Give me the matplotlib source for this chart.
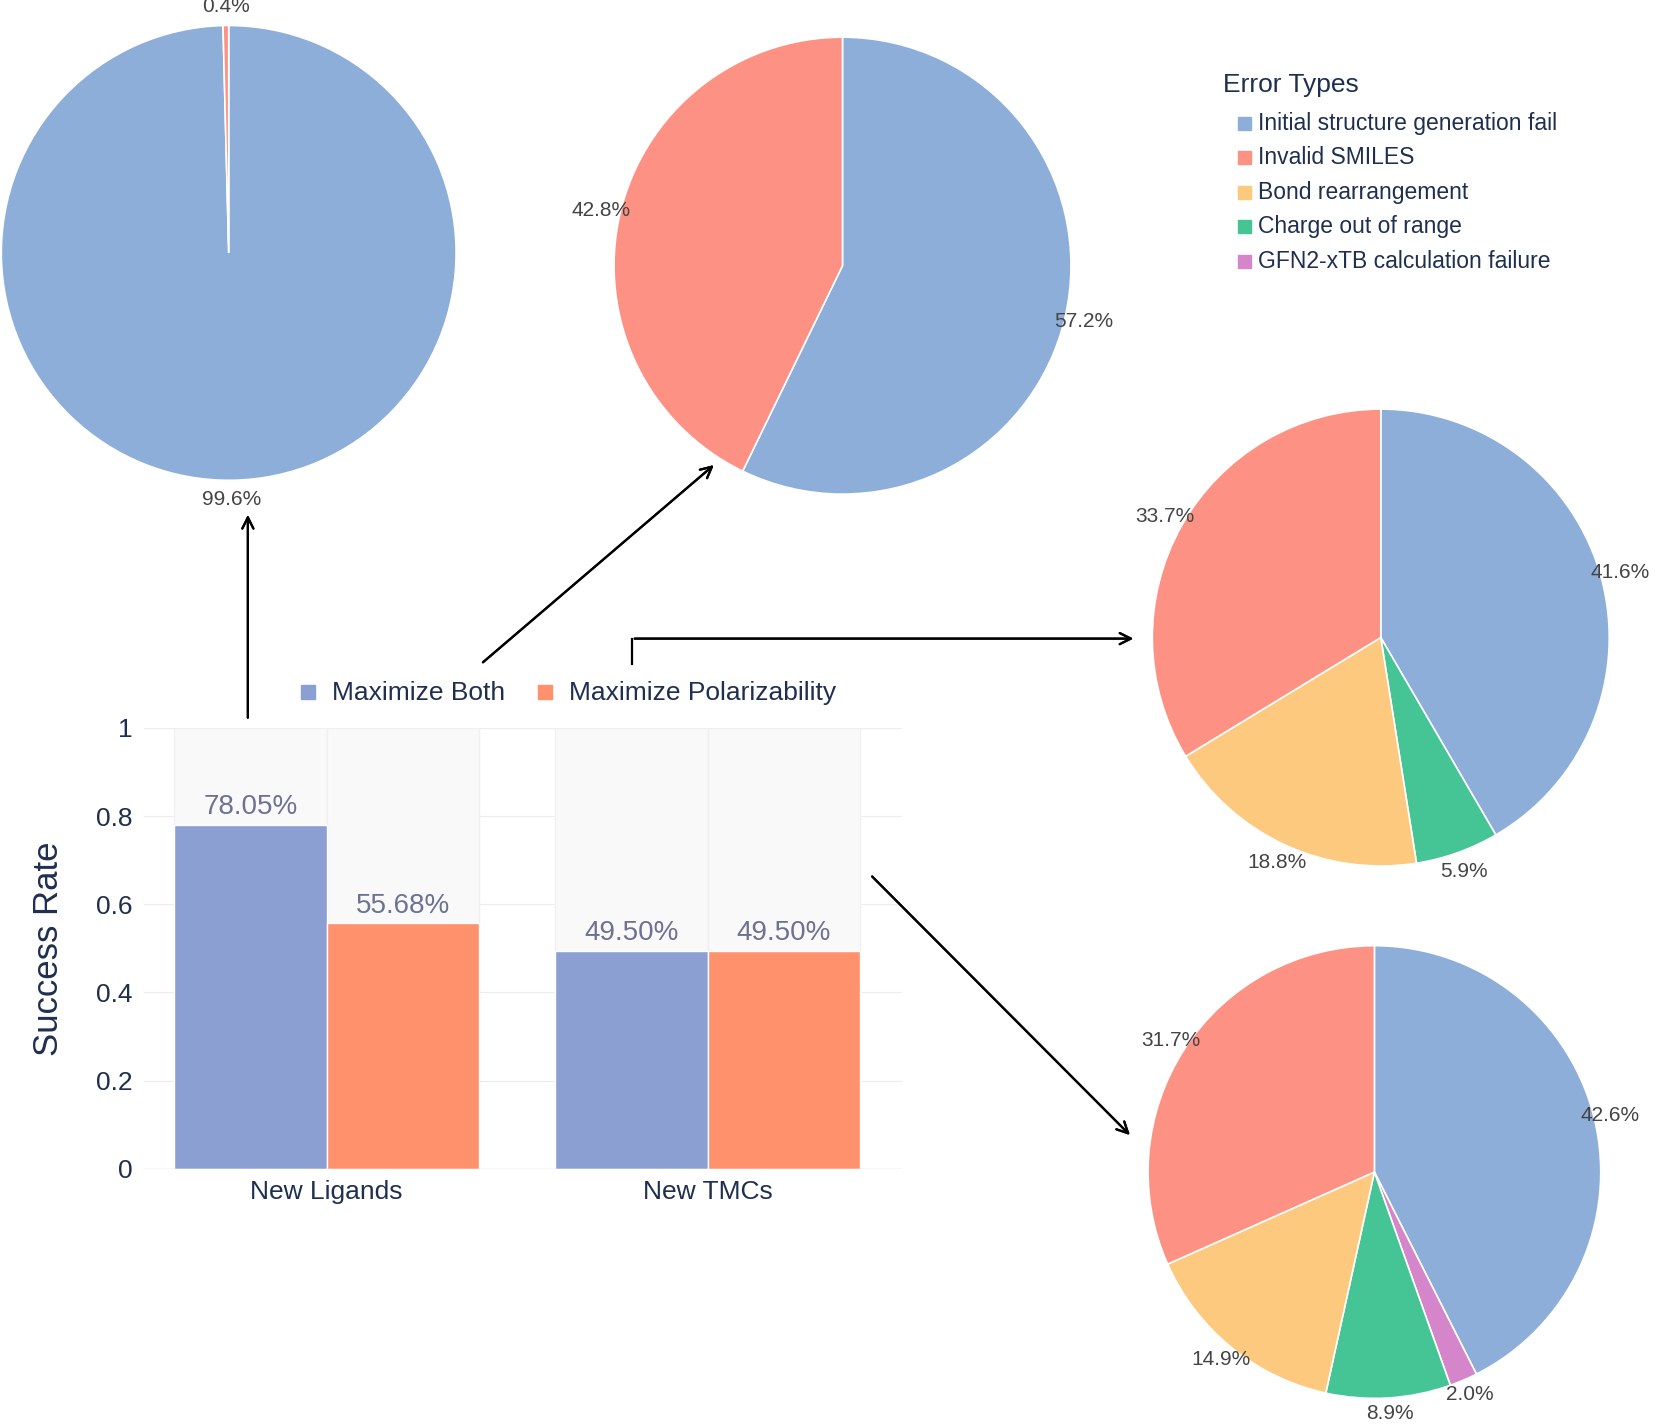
import matplotlib.pyplot as plt
from matplotlib.patches import Rectangle
import numpy as np

plt.rcParams['font.family'] = ['Liberation Sans', 'DejaVu Sans']

# data
groups = ['New Ligands', 'New TMCs']
series = ['Maximize Both', 'Maximize Polarizability']
rates = [[0.7805, 0.4950], [0.5568, 0.4950]]
err_types = ['Initial structure generation fail', 'Invalid SMILES', 'Bond rearrangement',
             'Charge out of range', 'GFN2-xTB calculation failure']
err_colors = ['#8daed9', '#fd9284', '#fdc97e', '#45c595', '#d585c9']
pie_vals = [
    [99.6, 0.4, 0, 0, 0],
    [57.2, 42.8, 0, 0, 0],
    [41.6, 33.7, 18.8, 5.9, 0],
    [42.6, 31.7, 14.9, 8.9, 2.0],
]

W, H = 1568, 1342
fig = plt.figure(figsize=(16.68, 14.26), dpi=100)


def fx(x):
    return x / W


def fy(y):
    return 1 - y / H


def pie_at(cx, cy, r, vals, pd=1.085):
    ax = fig.add_axes([fx(cx - r), fy(cy + r), 2 * r / W, 2 * r / H])
    # clockwise from top: first type, then the rest in reverse order
    order = [0] + list(range(len(vals) - 1, 0, -1))
    v = [vals[i] for i in order if vals[i] > 0]
    c = [err_colors[i] for i in order if vals[i] > 0]
    ax.pie(v, colors=c, startangle=90, counterclock=False,
           autopct='%1.1f%%', pctdistance=pd,
           wedgeprops=dict(edgecolor='white', linewidth=1.2),
           textprops=dict(fontsize=15, color='#444444'))
    ax.set_xlim(-1, 1)
    ax.set_ylim(-1, 1)
    ax.set_aspect('equal')
    ax.axis('off')


pie_at(215, 238, 214, pie_vals[0])
pie_at(792, 250, 215, pie_vals[1])
pie_at(1298, 600, 215, pie_vals[2])
pie_at(1292, 1103, 213, pie_vals[3], pd=1.07)

# bar chart
ax = fig.add_axes([fx(135), fy(1100), fx(848) - fx(135), fy(685) - fy(1100)])
x = np.arange(len(groups))
bw = 0.4
bar_cols = ['#8b9fd3', '#ff916d']
for i, s in enumerate(series):
    xs = x + (i - 0.5) * bw
    ax.bar(xs, [1] * len(groups), width=bw, color='#f9f9f9', edgecolor='#f0f0f0', zorder=1)
    bars = ax.bar(xs, rates[i], width=bw, color=bar_cols[i], edgecolor='white', zorder=2)
    for b, v in zip(bars, rates[i]):
        ax.text(b.get_x() + b.get_width() / 2, v + 0.01, f'{v*100:.2f}%',
                ha='center', va='bottom', fontsize=20, color='#6e7191', zorder=3)
ax.set_xlim(-0.48, 1.51)
ax.set_ylim(0, 1)
ax.set_yticks([0, 0.2, 0.4, 0.6, 0.8, 1])
ax.set_yticklabels(['0', '0.2', '0.4', '0.6', '0.8', '1'])
ax.set_xticks(x)
ax.set_xticklabels(groups)
ax.tick_params(labelsize=19, colors='#1f2f4f', length=0, pad=8)
ax.grid(axis='y', color='#ececec', zorder=0)
ax.set_axisbelow(True)
for sp in ax.spines.values():
    sp.set_visible(False)
ax.axhline(0, color='#dddddd', lw=1)
ax.set_ylabel('Success Rate', fontsize=25, color='#1f2f4f', labelpad=22)

# bar legend
for (lx, lab), col in zip([(290, series[0]), (513, series[1])], bar_cols):
    fig.patches.append(Rectangle((fx(lx - 7), fy(658)), 13 / W, 13 / H,
                                 transform=fig.transFigure, color=col))
    fig.text(fx(lx + 22), fy(652), lab, fontsize=19, color='#1f2f4f', va='center')

# error legend
fig.text(fx(1150), fy(80), 'Error Types', fontsize=19, color='#1f2f4f', va='center')
for k, (lab, col) in enumerate(zip(err_types, err_colors)):
    yy = 116 + k * 32.5
    fig.patches.append(Rectangle((fx(1164), fy(yy + 6)), 12 / W, 12 / H,
                                 transform=fig.transFigure, color=col))
    fig.text(fx(1183), fy(yy), lab, fontsize=16.5, color='#1f2f4f', va='center')

# arrows
arr = dict(arrowstyle='->', color='black', lw=1.6, mutation_scale=20)
fig.add_artist(plt.annotate('', xy=(fx(233), fy(482)), xytext=(fx(233), fy(678)),
                            xycoords='figure fraction', arrowprops=arr))
fig.add_artist(plt.annotate('', xy=(fx(673), fy(436)), xytext=(fx(452), fy(625)),
                            xycoords='figure fraction', arrowprops=arr))
fig.add_artist(plt.annotate('', xy=(fx(1068), fy(601)), xytext=(fx(594), fy(601)),
                            xycoords='figure fraction', arrowprops=arr))
fig.lines.append(plt.Line2D([fx(594), fx(594)], [fy(625), fy(601)],
                            transform=fig.transFigure, color='black', lw=1.6))
fig.add_artist(plt.annotate('', xy=(fx(1064), fy(1070)), xytext=(fx(818), fy(823)),
                            xycoords='figure fraction', arrowprops=arr))

fig.savefig('out.png', dpi=100)
